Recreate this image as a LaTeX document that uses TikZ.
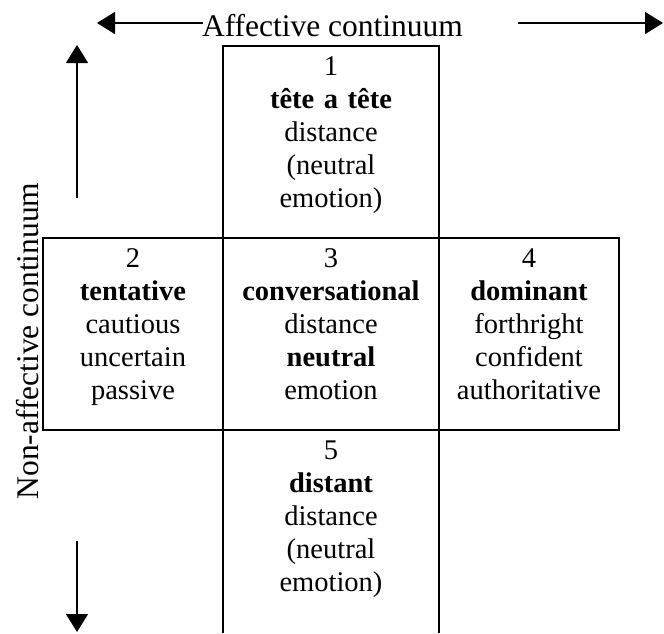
\documentclass[tikz,border=0pt]{standalone}
\usepackage{fontspec}
\setmainfont{Liberation Serif}
\usetikzlibrary{arrows.meta}

\begin{document}
\begin{tikzpicture}[x=1pt, y=-1pt, inner sep=0pt, outer sep=0pt,
    cell/.style={draw, line width=2pt, minimum width=216pt, minimum height=192pt},
    celltext/.style={anchor=base, text width=210pt, align=center, font=\fontsize{28.5}{33}\selectfont},
    axis/.style={line width=1.3pt, -{Triangle[length=18pt,width=22pt]}},
    axislabel/.style={font=\fontsize{31.5}{36}\selectfont}]
    \useasboundingbox (0,0) rectangle (664,633);

    % boxes
    \node[cell] (c1) at (331,142) {};
    \node[cell, minimum width=180pt] (c2) at (133,334) {};
    \node[cell] (c3) at (331,334) {};
    \node[cell, minimum width=180pt] (c4) at (529,334) {};
    % box 5 has no bottom line
    \draw[line width=2pt] (c3.south west) -- ++(0,203);
    \draw[line width=2pt] (c3.south east) -- ++(0,203);

    % texts
    \node[celltext] (t1) at ([yshift=-29pt]c1.north)
    {1\\ \textbf{tête a tête}\\ distance\\ (neutral\\ emotion)};
    \node[celltext] (t2) at ([yshift=-29pt]c2.north)
    {2\\ \textbf{tentative}\\ cautious\\ uncertain\\ passive};
    \node[celltext] (t3) at ([yshift=-29pt]c3.north)
    {3\\ \textbf{conversational}\\ distance\\ \textbf{neutral}\\ emotion};
    \node[celltext] (t4) at ([yshift=-29pt]c4.north)
    {4\\ \textbf{dominant}\\ forthright\\ confident\\ authoritative};
    \node[celltext] (t5) at ([yshift=-29pt]c3.south)
    {5\\ \textbf{distant}\\ distance\\ (neutral\\ emotion)};

    % affective axis
    \node[axislabel, anchor=base] (aff) at (332.5,36) {Affective continuum};
    \coordinate (affL) at (97,23);
    \coordinate (affLs) at (203,23);
    \coordinate (affRs) at (518,23);
    \coordinate (affR) at (663,23);
    \draw[axis] (affLs) -- (affL);
    \draw[axis] (affRs) -- (affR);

    % non-affective axis
    \node[axislabel, rotate=90, anchor=base] (naff) at (38,341) {Non-affective continuum};
    \coordinate (naffT) at (77,45);
    \coordinate (naffTs) at (77,198);
    \coordinate (naffBs) at (77,541);
    \coordinate (naffB) at (77,632);
    \draw[axis] (naffTs) -- (naffT);
    \draw[axis] (naffBs) -- (naffB);
\end{tikzpicture}
\end{document}
